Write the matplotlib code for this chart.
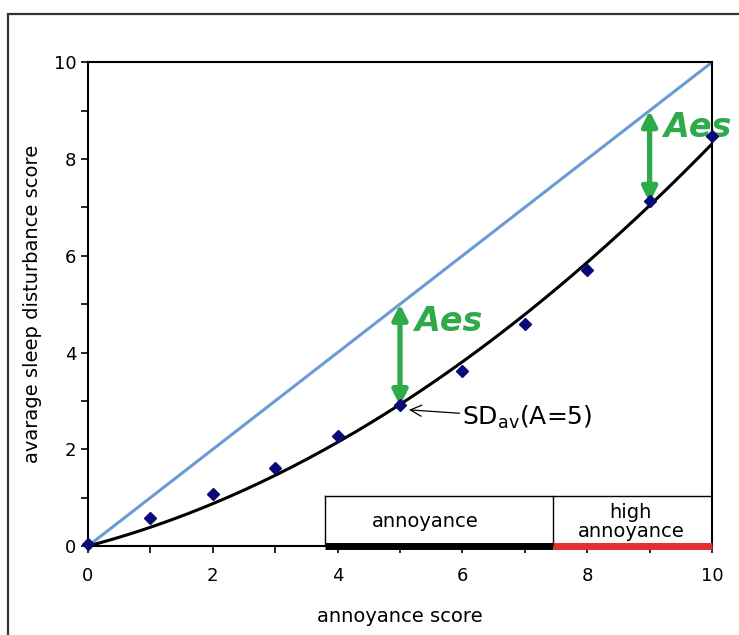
import numpy as np
import matplotlib.pyplot as plt
from matplotlib.patches import Rectangle

# annoyance score vs average sleep disturbance score
annoy = [0, 1, 2, 3, 4, 5, 6, 7, 8, 9, 10]
sd_avg = [0.05, 0.58, 1.07, 1.61, 2.27, 2.91, 3.62, 4.59, 5.70, 7.13, 8.47]
diag = [0, 10]
aes_x = [5, 9]
aes_lo = [2.9, 7.1]
aes_hi = [5.0, 9.0]
band_edges = [3.8, 7.45, 10.0]
band_labels = ['annoyance', 'high\nannoyance']

fig = plt.figure(figsize=(7.39, 6.35), dpi=100)
ax = fig.add_axes([0.119, 0.140, 0.8445, 0.762])

# outer frame (cut off at right/bottom)
fig.patches.append(Rectangle((8/739, -0.1), 1.2, 1 - 14/635 + 0.1, transform=fig.transFigure,
                             fill=False, ec='#333333', lw=1.6))

ax.plot(diag, diag, color='#6a9bd6', lw=2.2)

# trend line: 2nd order fit through the origin
xa = np.array(annoy, dtype=float)
A = np.column_stack([xa, xa ** 2])
coef, *_ = np.linalg.lstsq(A, np.array(sd_avg), rcond=None)
xs = np.linspace(0, 10, 200)
ax.plot(xs, coef[0] * xs + coef[1] * xs ** 2, color='black', lw=2.2)

ax.plot(annoy, sd_avg, 'D', color='#0a0a78', ms=6, clip_on=False, zorder=5)

green = '#2eaa4a'
for x, lo, hi in zip(aes_x, aes_lo, aes_hi):
    ax.annotate('', xy=(x, hi), xytext=(x, lo),
                arrowprops=dict(arrowstyle='<|-|>', color=green, lw=3.8,
                                mutation_scale=22, shrinkA=0, shrinkB=0))
    ax.text(x + 0.22, hi - 0.35, 'Aes', color=green, fontsize=24, fontweight='bold',
            fontstyle='italic', ha='left', va='center')

ax.annotate(r'SD$_{\rm av}$(A=5)', xy=(5.1, 2.82), xytext=(6.0, 2.65),
            fontsize=18, va='center', ha='left',
            arrowprops=dict(arrowstyle='->', color='black', lw=0.9, shrinkA=0, shrinkB=2,
                            mutation_scale=20))

# annoyance bands
ax.plot([band_edges[0], band_edges[1]], [0, 0], color='black', lw=5, solid_capstyle='butt', zorder=4, clip_on=False)
ax.plot([band_edges[1], band_edges[2]], [0, 0], color='#e03030', lw=5, solid_capstyle='butt', zorder=4, clip_on=False)
ax.plot([band_edges[0], band_edges[2]], [1.03, 1.03], color='black', lw=1)
for e in band_edges[:2]:
    ax.plot([e, e], [0, 1.03], color='black', lw=1)
ax.text(5.4, 0.5, band_labels[0], ha='center', va='center', fontsize=14)
ax.text(8.7, 0.5, band_labels[1], ha='center', va='center', fontsize=14, linespacing=1.0)

ax.set_xlim(0, 10)
ax.set_ylim(0, 10)
ax.set_xticks([0, 2, 4, 6, 8, 10])
ax.set_yticks([0, 2, 4, 6, 8, 10])
ax.set_xticks(range(11), minor=True)
ax.set_yticks(range(11), minor=True)
ax.tick_params(which='both', direction='out', length=5, width=1.2, labelsize=13)
ax.tick_params(axis='x', pad=10)
for s in ax.spines.values():
    s.set_linewidth(1.5)

ax.set_xlabel('annoyance score', fontsize=14, labelpad=16)
ax.set_ylabel('avarage sleep disturbance score', fontsize=14, labelpad=8)

fig.savefig('out.png', dpi=100)
